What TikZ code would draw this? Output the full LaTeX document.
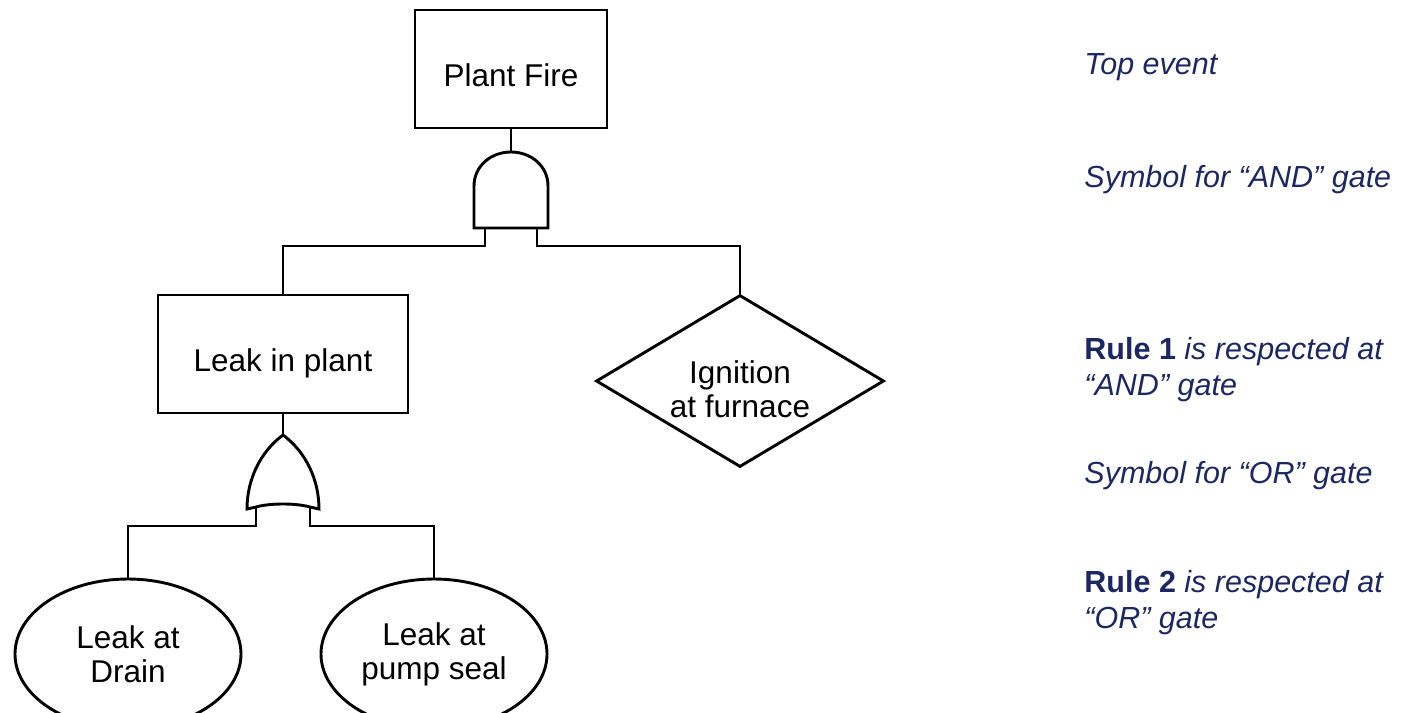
\documentclass[tikz,border=0pt]{standalone}
\usepackage{fontspec}
\setmainfont{Liberation Sans}
\usetikzlibrary{shapes.geometric}
\definecolor{notecol}{RGB}{28,40,100}
\begin{document}
\begin{tikzpicture}[x=1pt,y=-1pt,
  line width=2.9pt, line join=miter,
  lbl/.style={font=\fontsize{31.5}{34}\selectfont, inner sep=0pt, align=center},
  eventbox/.style={lbl, draw, rectangle, text height=34pt, text depth=0pt},
  basicev/.style={lbl, draw, ellipse, minimum width=226pt, minimum height=150pt},
  undevev/.style={lbl, draw, diamond, aspect=1.674, inner sep=0pt,
    minimum width=288pt, minimum height=172pt},
  note/.style={anchor=base west, inner sep=0pt, text=notecol,
    font=\fontsize{30.5}{34}\selectfont\itshape},
]
\useasboundingbox (0,0) rectangle (1404,712);

% events
\node[eventbox, minimum width=192pt, minimum height=118pt] (fire) at (511,69) {Plant Fire};
\node[eventbox, minimum width=250pt, minimum height=118pt] (leak) at (283,354) {Leak in plant};
\node[undevev] (ignit) at (740,381) {\rule{0pt}{38.5pt}Ignition\\at furnace};
\node[basicev] (drain) at (128,654) {Leak at\\Drain};
\node[basicev] (pump) at (434,654) {Leak at\\pump seal};

% AND gate
\coordinate (andtop) at (511,152);
\coordinate (andL) at (485,228);
\coordinate (andR) at (537,228);
\draw (474,228) -- (474,186)
  .. controls (474,166) and (491,152) .. (andtop)
  .. controls (531,152) and (548,166) .. (548,186)
  -- (548,228) -- cycle;
\draw (fire) -- (andtop);
\draw (andL) -- ++(0,18) -| (leak);
\draw (andR) -- ++(0,18) -| (ignit);

% OR gate
\coordinate (ortop) at (283,435);
\coordinate (orL) at (256,507);
\coordinate (orR) at (310,507);
\draw (ortop) .. controls (260,452) and (247,480) .. (247,509)
  -- (orL) .. controls (270,503) and (296,503) .. (orR)
  -- (319,509) .. controls (319,480) and (306,452) .. (ortop) -- cycle;
\draw (leak) -- (ortop);
\draw (orL) -- (256,526) -| (drain);
\draw (orR) -- (310,526) -| (pump);

% explanatory notes
\node[note] (n1) at (1083,74) {Top event};
\node[note] (n2) at (1083,187) {Symbol for “AND” gate};
\node[note] (n3) at (1083,359) {{\bfseries\upshape Rule 1} is respected at};
\node[note] (n4) at (1083,395) {“AND” gate};
\node[note] (n5) at (1083,483) {Symbol for “OR” gate};
\node[note] (n6) at (1083,592) {{\bfseries\upshape Rule 2} is respected at};
\node[note] (n7) at (1083,628) {“OR” gate};
\end{tikzpicture}
\end{document}
